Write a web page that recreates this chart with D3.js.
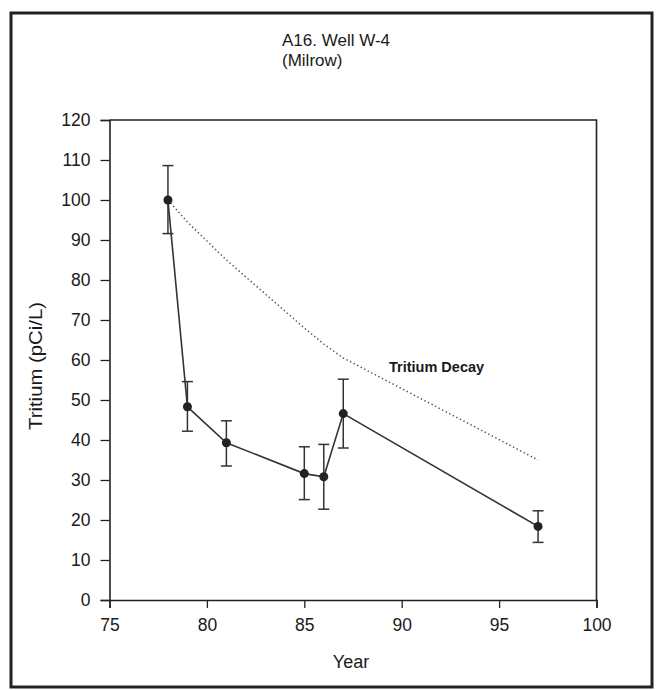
<!DOCTYPE html>
<html>
<head>
<meta charset="utf-8">
<script src="https://cdn.jsdelivr.net/npm/d3@7"></script>
<style>
  html, body { margin: 0; padding: 0; background: #fff; }
  svg { display: block; }
  text { font-family: "Liberation Sans", Arial, sans-serif; fill: #1a1a1a; }
</style>
</head>
<body>
<svg id="chart" width="656" height="690"></svg>
<script>
// ---- data ----
const years      = [78, 79, 81, 85, 86, 87, 97];
const tritium    = [100, 48.3, 39.3, 31.6, 30.8, 46.6, 18.4];
const errLow     = [91.6, 42.2, 33.5, 25.1, 22.7, 38.0, 14.4];
const errHigh    = [108.6, 54.6, 44.8, 38.3, 38.9, 55.2, 22.3];
const decayYears = [78, 79, 81, 85, 86, 87, 97];
const decayVals  = [100, 94.5, 85, 68, 64, 60.5, 35];
const xTicks     = [75, 80, 85, 90, 95, 100];
const yTicks     = [0, 10, 20, 30, 40, 50, 60, 70, 80, 90, 100, 110, 120];
const titleLines = ["A16. Well W-4", "(Milrow)"];
const xLabel = "Year";
const yLabel = "Tritium (pCi/L)";
const decayLabel = "Tritium Decay";

// ---- layout ----
const svg = d3.select("#chart");
const x = d3.scaleLinear().domain([75, 100]).range([109.5, 596.5]);
const y = d3.scaleLinear().domain([0, 120]).range([600, 120]);
const ink = "#222";

// outer frame
svg.append("rect")
  .attr("x", 11).attr("y", 13).attr("width", 641).attr("height", 674)
  .attr("fill", "none").attr("stroke", ink).attr("stroke-width", 3);

// title
svg.append("g").selectAll("text").data(titleLines).join("text")
  .attr("x", 282).attr("y", (d, i) => 46 + i * 20)
  .attr("font-size", 17)
  .text(d => d);

// plot frame (top & right)
svg.append("path")
  .attr("d", `M${x(75)},${y(120)}H${x(100)}V${y(0)}`)
  .attr("fill", "none").attr("stroke", ink).attr("stroke-width", 1.6);

// axes
const xAxis = svg.append("g").attr("transform", `translate(0,${y(0)})`)
  .call(d3.axisBottom(x).tickValues(xTicks).tickSize(8).tickPadding(11).tickFormat(d3.format("d")));
const yAxis = svg.append("g").attr("transform", `translate(${x(75)},0)`)
  .call(d3.axisLeft(y).tickValues(yTicks).tickSize(9).tickPadding(10).tickFormat(d3.format("d")));
[xAxis, yAxis].forEach(g => {
  g.select(".domain").attr("stroke", ink).attr("stroke-width", 1.6);
  g.selectAll(".tick line").attr("stroke", ink).attr("stroke-width", 1.3);
  g.selectAll(".tick text").attr("font-size", 17.5).attr("fill", "#1a1a1a")
    .attr("font-family", "Liberation Sans, Arial, sans-serif");
});

// axis labels
svg.append("text").attr("x", 351).attr("y", 668).attr("text-anchor", "middle")
  .attr("font-size", 18).text(xLabel);
svg.append("text").attr("transform", "translate(42,366) rotate(-90)")
  .attr("text-anchor", "middle").attr("font-size", 18.5)
  .attr("textLength", 128).attr("lengthAdjust", "spacingAndGlyphs").text(yLabel);

// decay line (dotted)
const decay = decayYears.map((d, i) => ({ x: d, v: decayVals[i] }));
svg.append("path").datum(decay)
  .attr("d", d3.line().x(d => x(d.x)).y(d => y(d.v)))
  .attr("fill", "none").attr("stroke", "#555").attr("stroke-width", 1.5)
  .attr("stroke-dasharray", "1.4,2.6");

svg.append("text").attr("x", 389).attr("y", 372)
  .attr("font-size", 14.5).attr("font-weight", "bold").text(decayLabel);

// data series
const pts = years.map((d, i) => ({ x: d, v: tritium[i], lo: errLow[i], hi: errHigh[i] }));
svg.append("path").datum(pts)
  .attr("d", d3.line().x(d => x(d.x)).y(d => y(d.v)))
  .attr("fill", "none").attr("stroke", "#333").attr("stroke-width", 1.6);

const eb = svg.append("g").attr("stroke", "#333").attr("stroke-width", 1.5);
eb.selectAll("line.v").data(pts).join("line").attr("class", "v")
  .attr("x1", d => x(d.x)).attr("x2", d => x(d.x))
  .attr("y1", d => y(d.lo)).attr("y2", d => y(d.hi));
eb.selectAll("line.t").data(pts).join("line").attr("class", "t")
  .attr("x1", d => x(d.x) - 5.5).attr("x2", d => x(d.x) + 5.5)
  .attr("y1", d => y(d.hi)).attr("y2", d => y(d.hi));
eb.selectAll("line.b").data(pts).join("line").attr("class", "b")
  .attr("x1", d => x(d.x) - 5.5).attr("x2", d => x(d.x) + 5.5)
  .attr("y1", d => y(d.lo)).attr("y2", d => y(d.lo));

svg.append("g").selectAll("circle").data(pts).join("circle")
  .attr("cx", d => x(d.x)).attr("cy", d => y(d.v)).attr("r", 4.5)
  .attr("fill", "#222");
</script>
</body>
</html>
